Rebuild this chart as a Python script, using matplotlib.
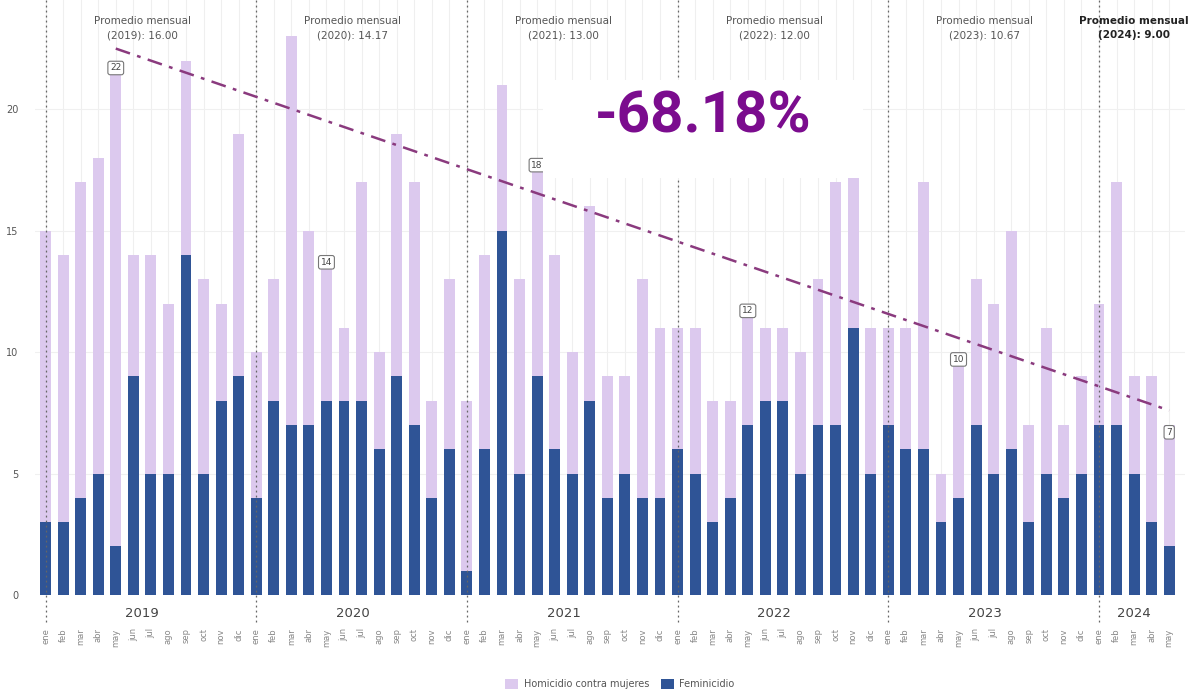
import matplotlib
matplotlib.use("Agg")
import matplotlib.pyplot as plt
import numpy as np
from matplotlib.patches import Rectangle, Patch

# ---------------- data ----------------
years = [2019, 2020, 2021, 2022, 2023, 2024]
months = ["ene", "feb", "mar", "abr", "may", "jun", "jul", "ago", "sep", "oct", "nov", "dic"]

feminicidio_2019 = [3, 3, 4, 5, 2, 9, 5, 5, 14, 5, 8, 9]
homicidio_2019 = [12, 11, 13, 13, 20, 5, 9, 7, 8, 8, 4, 10]
feminicidio_2020 = [4, 8, 7, 7, 8, 8, 8, 6, 9, 7, 4, 6]
homicidio_2020 = [6, 5, 16, 8, 6, 3, 9, 4, 10, 10, 4, 7]
feminicidio_2021 = [1, 6, 15, 5, 9, 6, 5, 8, 4, 5, 4, 4]
homicidio_2021 = [7, 8, 6, 8, 9, 8, 5, 8, 5, 4, 9, 7]
feminicidio_2022 = [6, 5, 3, 4, 7, 8, 8, 5, 7, 7, 11, 5]
homicidio_2022 = [5, 6, 5, 4, 5, 3, 3, 5, 6, 10, 10, 6]
feminicidio_2023 = [7, 6, 6, 3, 4, 7, 5, 6, 3, 5, 4, 5]
homicidio_2023 = [4, 5, 11, 2, 6, 6, 7, 9, 4, 6, 3, 4]
feminicidio_2024 = [7, 7, 5, 3, 2]
homicidio_2024 = [5, 10, 4, 6, 5]

promedio_mensual = [16.00, 14.17, 13.00, 12.00, 10.67, 9.00]

fem_by_year = [feminicidio_2019, feminicidio_2020, feminicidio_2021,
               feminicidio_2022, feminicidio_2023, feminicidio_2024]
hom_by_year = [homicidio_2019, homicidio_2020, homicidio_2021,
               homicidio_2022, homicidio_2023, homicidio_2024]

# ---------------- build flat series ----------------
fem = np.array([v for ys in fem_by_year for v in ys])
hom = np.array([v for ys in hom_by_year for v in ys])
total = fem + hom
month_labels = [months[i] for ys in fem_by_year for i in range(len(ys))]
x = np.arange(len(fem))
year_start = np.cumsum([0] + [len(ys) for ys in fem_by_year])[:-1]
year_len = [len(ys) for ys in fem_by_year]

c_hom = "#DCC9EE"
c_fem = "#2F5496"
c_trend = "#8A3A7E"
c_big = "#7B0C8E"

fig = plt.figure(figsize=(11.95, 6.93), dpi=100)
ax = fig.add_axes([35 / 1195, 1 - 595 / 693, 1150 / 1195, 595 / 693])

ax.bar(x, fem, width=0.62, color=c_fem, zorder=2)
ax.bar(x, hom, bottom=fem, width=0.62, color=c_hom, zorder=2)

ax.set_xlim(-0.6, len(x) - 0.1)
ax.set_ylim(0, 24.5)

# grid
for xi in x:
    ax.axvline(xi, color="#EFEFEF", lw=0.8, zorder=0)
for yv in [5, 10, 15, 20]:
    ax.axhline(yv, color="#F0F0F0", lw=0.8, zorder=0)

for s in ax.spines.values():
    s.set_visible(False)
ax.set_yticks([0, 5, 10, 15, 20])
ax.set_yticklabels(["0", "5", "10", "15", "20"], fontsize=7, color="#555555")
ax.tick_params(axis="y", length=0, pad=12)
ax.set_xticks(x)
ax.set_xticklabels(month_labels, rotation=90, fontsize=6, color="#888888")
ax.tick_params(axis="x", length=0, pad=24)

# year separators (dotted) at January
for xs in year_start:
    ax.axvline(xs, ymin=-0.045, ymax=1, color="#666666", lw=0.9,
               ls=(0, (1.5, 2.5)), zorder=3, clip_on=False)

# year labels & monthly averages
for yr, xs, n, prom in zip(years, year_start, year_len, promedio_mensual):
    xc = xs + (n - 1) / 2
    ax.text(xc, -0.5, str(yr), ha="center", va="top", fontsize=9.5,
            color="#444444")
    ax.text(xc, 23.35, f"Promedio mensual\n({yr}): {prom:.2f}", ha="center",
            va="center", fontsize=7.5, linespacing=1.6,
            color="#222222" if yr == years[-1] else "#555555",
            fontweight="bold" if yr == years[-1] else "normal")

# May labels
may_idx = [xs + 4 for xs in year_start]
for mi in may_idx:
    ax.text(mi, total[mi] - 0.3, str(total[mi]), ha="center", va="center",
            fontsize=6.5, color="#444444", zorder=5,
            bbox=dict(boxstyle="round,pad=0.25", fc="white", ec="#777777", lw=0.8))

# trend line between first and last May
x0, x1 = may_idx[0], may_idx[-1]
ax.plot([x0, x1], [total[x0] + 0.5, total[x1] + 0.6], color=c_trend, lw=1.8,
        ls=(0, (6, 3, 1.5, 3)), zorder=4)

# white box with percentage change
pct = (total[x1] - total[x0]) / total[x0] * 100
fig.patches.append(Rectangle((543 / 1195, 1 - 178 / 693), 320 / 1195, 98 / 693,
                             transform=fig.transFigure, fc="white", ec="none", zorder=10))
fig.text(703 / 1195, 1 - 117 / 693, f"{pct:.2f}%", ha="center", va="center",
         fontsize=42, fontweight="bold", color=c_big, family=["Roboto", "DejaVu Sans"],
         zorder=11)

# legend
handles = [Patch(fc=c_hom, ec="none", label="Homicidio contra mujeres"),
           Patch(fc=c_fem, ec="none", label="Feminicidio")]
fig.legend(handles=handles, loc="center", bbox_to_anchor=(620 / 1195, 1 - 684 / 693),
           ncol=2, frameon=False, fontsize=7, labelcolor="#555555",
           handlelength=1.3, handleheight=1.3, columnspacing=1.2, handletextpad=0.6)

fig.savefig("out.png", dpi=100, facecolor="white")
